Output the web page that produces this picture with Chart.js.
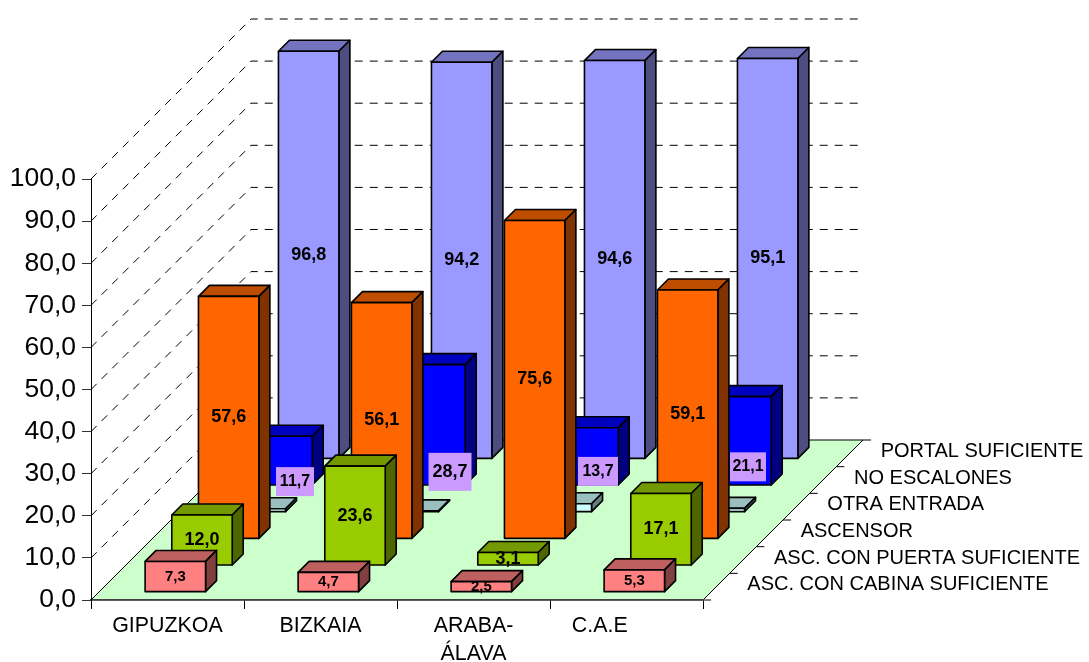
<!DOCTYPE html>
<html>
<head>
<meta charset="utf-8">
<title>Accesibilidad de los edificios</title>
<script src="https://cdn.jsdelivr.net/npm/chart.js@4"></script>
<style>
  html, body { margin: 0; background: #fff; }
  canvas { display: block; }
</style>
</head>
<body>
<canvas id="chart" width="1089" height="662"></canvas>
<script>
const territories = ['GIPUZKOA', 'BIZKAIA', ['ARABA-', 'ÁLAVA'], 'C.A.E'];
const yTicks = [0, 10, 20, 30, 40, 50, 60, 70, 80, 90, 100];

const seriesNames = [
  'ASC. CON CABINA SUFICIENTE',
  'ASC. CON PUERTA SUFICIENTE',
  'ASCENSOR',
  'OTRA ENTRADA',
  'NO ESCALONES',
  'PORTAL SUFICIENTE'
];
const cabina = [7.3, 4.7, 2.5, 5.3];
const puerta = [12.0, 23.6, 3.1, 17.1];
const ascensor = [57.6, 56.1, 75.6, 59.1];
const otraEntrada = [0.8, 0.3, 2.0, 0.9];   // no printed value
const noEscalones = [11.7, 28.7, 13.7, 21.1];
const portal = [96.8, 94.2, 94.6, 95.1];

const seriesColors = ['#FF8080', '#99CC00', '#FF6600', '#CCFFFF', '#0000FF', '#9999FF'];
const seriesValues = [cabina, puerta, ascensor, otraEntrada, noEscalones, portal];

// oblique projection of the floor: px moved right and up from front to back
const DEPTH = 160;
const SLOT = DEPTH / seriesNames.length;
const BAR_DEPTH = 11;
const BAR_INSET = (SLOT - BAR_DEPTH) / 2;
const OTRA = 3, NO_ESC = 4;

// value boxes of the NO ESCALONES series sit off-centre: [dx, dy, w, h, font px]
const noEscBoxes = [
  [13, 21, 38, 29, 16],
  [15, 47, 43, 38, 18],
  [10, 15, 40, 29, 16],
  [7, 26, 36, 29, 16]
];

const fmt = v => v.toFixed(1).replace('.', ',');

function shade(hex, k) {
  const n = parseInt(hex.slice(1), 16);
  const c = s => Math.round(((n >> s) & 255) * k);
  return `rgb(${c(16)},${c(8)},${c(0)})`;
}

function poly(ctx, pts, fill) {
  ctx.beginPath();
  pts.forEach((p, i) => i ? ctx.lineTo(p[0], p[1]) : ctx.moveTo(p[0], p[1]));
  ctx.closePath();
  ctx.fillStyle = fill;
  ctx.fill();
  ctx.stroke();
}

// Floor, side wall grid and back wall grid
const wallsPlugin = {
  id: 'walls',
  beforeDraw(chart) {
    const { ctx, scales: { x, y } } = chart;
    const l = x.left, r = x.right, b = y.bottom;
    ctx.save();
    ctx.strokeStyle = '#000';
    ctx.lineWidth = 1;
    poly(ctx, [[l, b], [r, b], [r + DEPTH, b - DEPTH], [l + DEPTH, b - DEPTH]], '#CCFFCC');

    ctx.setLineDash([8, 7]);
    yTicks.forEach(v => {
      const py = y.getPixelForValue(v);
      ctx.beginPath();
      if (v > 0) {
        ctx.moveTo(l, py);
        ctx.lineTo(l + DEPTH, py - DEPTH);
      }
      ctx.lineTo(r + DEPTH, py - DEPTH);
      ctx.stroke();
    });
    ctx.setLineDash([]);

    // depth ticks and series names along the right edge of the floor
    ctx.font = '20px "Liberation Sans", Arial, sans-serif';
    ctx.fillStyle = '#000';
    ctx.textBaseline = 'middle';
    for (let i = 0; i <= seriesNames.length; i++) {
      const tx = r + i * SLOT, ty = b - i * SLOT;
      ctx.beginPath();
      ctx.moveTo(tx, ty);
      ctx.lineTo(tx + 8, ty);
      ctx.stroke();
      if (i < seriesNames.length) {
        ctx.fillText(seriesNames[i], tx + SLOT / 2 + 31, ty - SLOT / 2 - 2);
      }
    }
    ctx.restore();
  }
};

// Replaces the flat bars with boxes pushed back to their series' row
const boxPlugin = {
  id: 'boxes',
  beforeDatasetDraw(chart, args) {
    const { ctx } = chart;
    const color = chart.data.datasets[args.index].backgroundColor;
    const z = args.index * SLOT + BAR_INSET;
    ctx.save();
    ctx.strokeStyle = '#000';
    ctx.lineWidth = 1.6;
    ctx.lineJoin = 'round';
    args.meta.data.forEach(bar => {
      const x0 = bar.x - bar.width / 2 + z;
      const x1 = x0 + bar.width;
      const top = bar.y - z;
      const bot = bar.base - z;
      const d = BAR_DEPTH;
      poly(ctx, [[x0, top], [x1, top], [x1 + d, top - d], [x0 + d, top - d]], shade(color, 0.75));
      poly(ctx, [[x1, top], [x1 + d, top - d], [x1 + d, bot - d], [x1, bot]], shade(color, 0.5));
      poly(ctx, [[x0, top], [x1, top], [x1, bot], [x0, bot]], color);
    });
    ctx.restore();
    return false;
  },
  afterDatasetsDraw(chart) {
    const { ctx } = chart;
    ctx.save();
    ctx.textAlign = 'center';
    ctx.textBaseline = 'middle';
    chart.getSortedVisibleDatasetMetas().slice().reverse().forEach(meta => {
      const i = meta.index;
      if (i === OTRA) return;   // these values stay hidden behind the orange bars
      const z = i * SLOT + BAR_INSET;
      meta.data.forEach((bar, j) => {
        let px = bar.x + z;
        let py = (bar.y + bar.base) / 2 - z;
        let size = i === 0 ? 15 : 18;
        if (i === NO_ESC) {
          const [dx, dy, w, h, font] = noEscBoxes[j];
          px += dx;
          py += dy;
          size = font;
          ctx.fillStyle = '#CC99FF';
          ctx.fillRect(px - w / 2, py - h / 2, w, h);
        }
        ctx.fillStyle = '#000';
        ctx.font = `bold ${size}px "Liberation Sans", Arial, sans-serif`;
        ctx.fillText(fmt(seriesValues[i][j]), px, py);
      });
    });
    ctx.restore();
  }
};

new Chart(document.getElementById('chart'), {
  type: 'bar',
  data: {
    labels: territories,
    datasets: seriesNames.map((name, i) => ({
      label: name,
      data: seriesValues[i],
      backgroundColor: seriesColors[i]
    }))
  },
  plugins: [wallsPlugin, boxPlugin],
  options: {
    responsive: false,
    animation: false,
    layout: { padding: { top: 179, right: 386, left: 0, bottom: 0 } },
    datasets: { bar: { grouped: false, categoryPercentage: 1, barPercentage: 0.395 } },
    plugins: { legend: { display: false }, tooltip: { enabled: false } },
    scales: {
      x: {
        afterFit: s => { s.height = 62; },
        border: { color: '#404040', width: 1.5 },
        grid: { drawOnChartArea: false, tickLength: 9, tickColor: '#000' },
        ticks: {
          color: '#000',
          autoSkip: false,
          maxRotation: 0,
          padding: 3,
          font: { family: '"Liberation Sans", Arial, sans-serif', size: 21.4, lineHeight: 1.31 },
          // the last label is set left of its category centre
          callback(v) {
            const label = this.getLabelForValue(v);
            return label === 'C.A.E' ? label + ' '.repeat(9) : label;
          }
        }
      },
      y: {
        min: 0,
        max: 100,
        afterFit: s => { s.width = 91; },
        border: { color: '#000', width: 1 },
        grid: { drawOnChartArea: false, tickLength: 9, tickColor: '#333' },
        ticks: {
          stepSize: 10,
          color: '#000',
          padding: 6,
          font: { family: '"Liberation Sans", Arial, sans-serif', size: 26.5 },
          callback: v => fmt(v)
        }
      }
    }
  }
});
</script>
</body>
</html>
